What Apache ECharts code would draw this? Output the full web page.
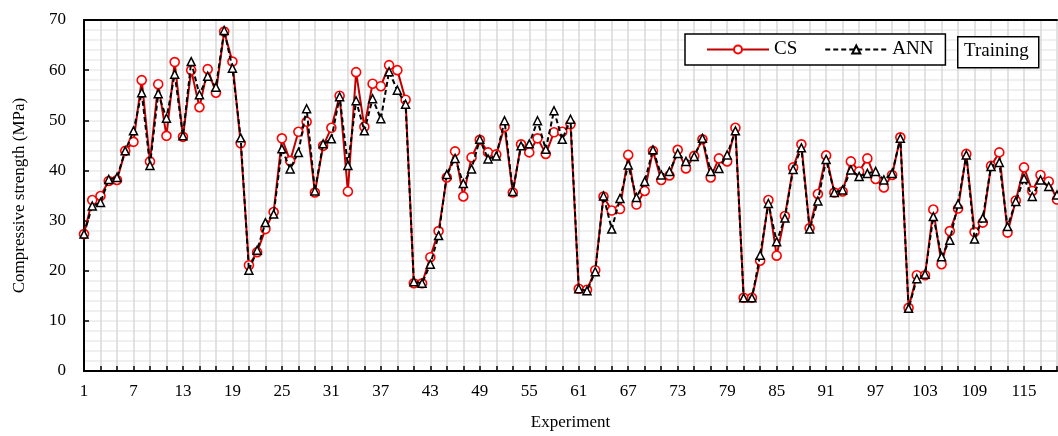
<!DOCTYPE html>
<html>
<head>
<meta charset="utf-8">
<script src="https://cdn.jsdelivr.net/npm/echarts@6/dist/echarts.min.js"></script>
<style>
  html, body { margin: 0; padding: 0; background: #fff; }
  #chart { width: 1058px; height: 436px; }
</style>
</head>
<body>
<div id="chart"></div>
<script>
// Experiment numbers 1..119
const experiments = Array.from({ length: 119 }, (_, i) => String(i + 1));

// Measured compressive strength (MPa)
const csValues = [
  27.3, 34.1, 34.9, 37.9, 38.1, 43.9, 45.7, 58.0, 41.8, 57.2,
  46.9, 61.6, 46.7, 60.0, 52.6, 60.2, 55.5, 67.7, 61.7, 45.4,
  21.1, 23.7, 28.3, 31.7, 46.4, 41.9, 47.7, 49.7, 35.6, 44.9,
  48.5, 54.9, 35.8, 59.6, 48.7, 57.3, 56.8, 61.0, 60.0, 54.1,
  17.5, 17.5, 22.7, 27.9, 38.6, 43.8, 34.8, 42.6, 46.1, 43.6,
  43.2, 48.7, 35.6, 45.2, 43.6, 46.4, 43.3, 47.6, 47.7, 49.2,
  16.4, 16.2, 20.1, 34.8, 32.0, 32.3, 43.1, 33.2, 35.9, 43.9,
  38.1, 39.0, 44.1, 40.4, 42.9, 46.2, 38.6, 42.4, 41.8, 48.5,
  14.6, 14.6, 22.0, 34.1, 23.0, 30.9, 40.6, 45.2, 28.5, 35.3,
  43.0, 35.6, 35.8, 41.8, 39.8, 42.4, 38.3, 36.6, 39.1, 46.6,
  12.6, 19.1, 19.1, 32.2, 21.3, 27.9, 32.4, 43.3, 27.7, 29.6,
  40.9, 43.6, 27.6, 34.0, 40.6, 35.9, 39.1, 37.8, 34.2
];

// ANN predictions (MPa)
const annValues = [
  27.3, 32.9, 33.6, 38.2, 38.6, 43.9, 47.9, 55.5, 41.0, 55.3,
  50.4, 59.2, 46.9, 61.7, 55.1, 58.8, 56.6, 67.9, 60.4, 46.5,
  20.1, 24.1, 29.6, 31.3, 44.3, 40.3, 43.6, 52.3, 35.9, 45.3,
  46.3, 54.7, 41.0, 53.9, 47.9, 54.3, 50.3, 59.7, 56.0, 53.2,
  17.8, 17.5, 21.3, 27.0, 39.2, 42.4, 37.4, 40.3, 46.2, 42.3,
  42.9, 49.9, 35.8, 44.9, 45.3, 49.9, 44.2, 51.9, 46.2, 50.2,
  16.4, 16.0, 19.8, 34.9, 28.3, 34.4, 41.1, 34.6, 37.8, 44.1,
  39.1, 39.8, 43.4, 41.8, 42.8, 46.4, 39.8, 40.4, 43.1, 47.9,
  14.6, 14.6, 23.1, 33.4, 25.8, 30.5, 40.2, 44.5, 28.3, 33.9,
  42.2, 35.6, 36.1, 40.1, 38.8, 39.4, 39.8, 38.1, 39.4, 46.4,
  12.5, 18.4, 19.3, 30.8, 22.8, 26.1, 33.3, 43.1, 26.3, 30.5,
  40.8, 41.6, 28.8, 33.8, 38.4, 34.8, 38.1, 36.8, 35.1
];

const FONT = '"Liberation Serif", "Times New Roman", serif';

const chart = echarts.init(document.getElementById('chart'), null, { renderer: 'canvas' });

chart.setOption({
  animation: false,
  backgroundColor: '#fff',
  grid: { left: 84, right: 1, top: 20, bottom: 65, containLabel: false },
  legend: {
    left: 685,
    top: 34,
    orient: 'horizontal',
    backgroundColor: '#fff',
    borderColor: '#000',
    borderWidth: 1.5,
    borderRadius: 0,
    padding: [6, 12, 6, 21],
    itemWidth: 62,
    itemHeight: 10,
    itemGap: 27,
    textStyle: { fontFamily: FONT, fontSize: 19, color: '#000' },
    data: ['CS', 'ANN']
  },
  graphic: [{
    type: 'rect',
    left: 957,
    top: 36,
    z: 100,
    shape: { width: 81, height: 31 },
    style: { fill: '#fff', stroke: '#000', lineWidth: 1.5 }
  }, {
    type: 'text',
    left: 964,
    top: 42,
    z: 101,
    style: {
      text: 'Training',
      font: '19px "Liberation Serif", "Times New Roman", serif',
      fill: '#000',
      stroke: null,
      lineWidth: 0
    }
  }],
  xAxis: [{
    type: 'category',
    data: experiments,
    boundaryGap: false,
    position: 'bottom',
    name: 'Experiment',
    nameLocation: 'middle',
    nameGap: 43,
    nameTextStyle: { fontFamily: FONT, fontSize: 17, color: '#000' },
    axisLine: { lineStyle: { color: '#000', width: 2 } },
    axisTick: { inside: true, length: 5, interval: 1, lineStyle: { color: '#000', width: 1.5 } },
    axisLabel: { interval: 5, margin: 12, fontFamily: FONT, fontSize: 17, color: '#000' },
    splitLine: { show: true, interval: 1, lineStyle: { color: '#d9d9d9', width: 1.5 } }
  }, {
    type: 'category',
    data: experiments,
    boundaryGap: false,
    position: 'top',
    axisLine: { lineStyle: { color: '#000', width: 2 } },
    axisTick: { show: false },
    axisLabel: { show: false },
    splitLine: { show: false }
  }],
  yAxis: {
    type: 'value',
    min: 0,
    max: 70,
    interval: 10,
    name: 'Compressive strength (MPa)',
    nameLocation: 'middle',
    nameGap: 56,
    nameTextStyle: { fontFamily: FONT, fontSize: 17, color: '#000' },
    axisLine: { show: true, lineStyle: { color: '#000', width: 2 } },
    axisTick: { show: true, inside: true, length: 5, lineStyle: { color: '#000', width: 1.5 } },
    axisLabel: { margin: 18, fontFamily: FONT, fontSize: 17, color: '#000' },
    splitLine: { show: true, lineStyle: { color: '#ebebeb', width: 1.5 } },
    minorTick: { show: false, splitNumber: 5 },
    minorSplitLine: { show: true, lineStyle: { color: '#ebebeb', width: 1.5 } }
  },
  series: [{
    name: 'CS',
    type: 'line',
    data: csValues,
    symbol: 'circle',
    symbolSize: 9,
    showAllSymbol: true,
    z: 3,
    lineStyle: { color: '#c00000', width: 2 },
    itemStyle: { color: '#fff', borderColor: '#ff0000', borderWidth: 1.6 }
  }, {
    name: 'ANN',
    type: 'line',
    data: annValues,
    symbol: 'triangle',
    symbolSize: 8,
    showAllSymbol: true,
    z: 4,
    lineStyle: { color: '#000', width: 2, type: [5, 3] },
    itemStyle: { color: '#fff', borderColor: '#000', borderWidth: 1.5 }
  }]
});
</script>
</body>
</html>
